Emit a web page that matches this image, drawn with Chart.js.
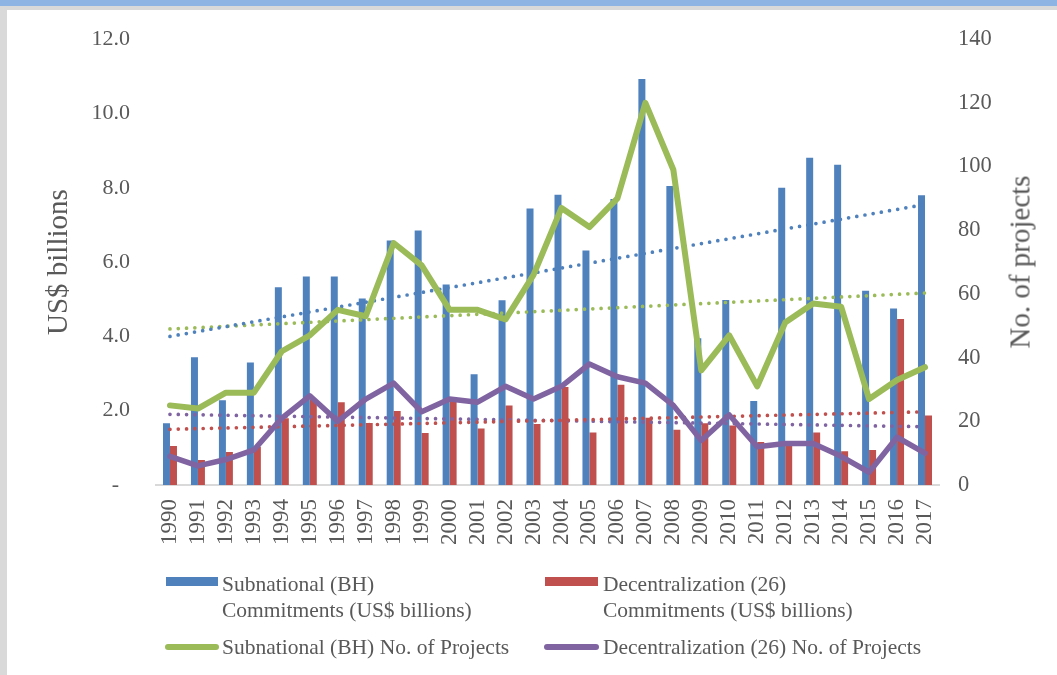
<!DOCTYPE html>
<html>
<head>
<meta charset="utf-8">
<script src="https://cdn.jsdelivr.net/npm/chart.js@4/dist/chart.umd.min.js"></script>
<style>
  html, body { margin:0; padding:0; background:#fff; }
  body { width:1057px; height:675px; position:relative; overflow:hidden; font-family:"Liberation Serif","Times New Roman",serif; color:#595959; }
  #bandBlue { position:absolute; left:0; top:0; width:1057px; height:6px; background:#8EB4E3; }
  #bandGray { position:absolute; left:0; top:6px; width:1057px; height:4px; background:#D9D9D9; }
  #stripGray { position:absolute; left:0; top:6px; width:7px; height:669px; background:#D9D9D9; }
  #wrap { position:absolute; left:0; top:0; width:1057px; height:675px; }
  .leg { position:absolute; font-size:21.5px; line-height:26px; white-space:nowrap; color:#595959; }
  .sw { position:absolute; }
  #rtitle { position:absolute; left:1020px; top:262px; font-size:29px; white-space:nowrap; color:#595959;
            transform:translate(-50%,-50%) rotate(-90deg); }
</style>
</head>
<body>
<div id="bandBlue"></div>
<div id="bandGray"></div>
<div id="stripGray"></div>
<div id="wrap"><canvas id="c" width="1057" height="675"></canvas></div>
<div id="rtitle"></div>
<div id="legend"></div>
<script>
const years = ['1990','1991','1992','1993','1994','1995','1996','1997','1998','1999','2000','2001','2002','2003','2004','2005','2006','2007','2008','2009','2010','2011','2012','2013','2014','2015','2016','2017'];
const subCommit = [1.66,3.44,2.28,3.30,5.32,5.61,5.61,5.02,6.58,6.85,5.40,2.98,4.97,7.44,7.81,6.31,7.70,10.93,8.05,3.95,4.98,2.26,8.00,8.81,8.62,5.23,4.75,7.80];
const decCommit = [1.05,0.67,0.89,1.03,1.80,2.30,2.23,1.67,1.99,1.40,2.24,1.52,2.14,1.64,2.64,1.41,2.70,1.81,1.49,1.66,1.60,1.16,1.12,1.41,0.91,0.94,4.47,1.87];
const subProjects = [25,24,29,29,42,47,55,53,76,69,55,55,52,66,87,81,90,120,99,36,47,31,51,57,56,27,33,37];
const decProjects = [9,6,8,11,21,28,20,27,32,23,27,26,31,27,31,38,34,32,25,14,22,12,13,13,9,4,15,10];
// linear trendline endpoints (1990, 2017)
const subCommitTrend = [4.0, 7.55];
const decCommitTrend = [1.50, 1.97];
const subProjTrend = [49.0, 60.3];
const decProjTrend = [22.2, 18.3];
const leftTicks = [0,2,4,6,8,10,12];
const rightTicks = [0,20,40,60,80,100,120,140];

const labels = {
  subCommit: ['Subnational (BH)', 'Commitments (US$ billions)'],
  decCommit: ['Decentralization (26)', 'Commitments (US$ billions)'],
  subProj: 'Subnational (BH) No. of Projects',
  decProj: 'Decentralization (26) No. of Projects'
};
const colors = { blue:'#4F81BD', red:'#C0504D', green:'#9BBB59', purple:'#8064A2' };

function ends(pair) {
  return years.map((_, i) => i === 0 ? pair[0] : (i === years.length - 1 ? pair[1] : null));
}
function trend(pair, color, axis) {
  return {
    type:'line', data: ends(pair), yAxisID: axis, borderColor: color, borderWidth: 3.7,
    borderDash: [0, 8.3], borderCapStyle: 'round', pointRadius: 0, spanGaps: true,
    fill: false, order: 5, label: ''
  };
}

const FONT = '"Liberation Serif","Times New Roman",serif';
Chart.defaults.font.family = FONT;
Chart.defaults.color = '#595959';

new Chart(document.getElementById('c'), {
  data: {
    labels: years,
    datasets: [
      { type:'bar', label: labels.subCommit.join(' '), data: subCommit, yAxisID:'y', backgroundColor: colors.blue,
        categoryPercentage: 0.5, barPercentage: 1.0, order: 10 },
      { type:'bar', label: labels.decCommit.join(' '), data: decCommit, yAxisID:'y', backgroundColor: colors.red,
        categoryPercentage: 0.5, barPercentage: 1.0, order: 10 },
      trend(subCommitTrend, colors.blue, 'y'),
      trend(decCommitTrend, colors.red, 'y'),
      trend(subProjTrend, colors.green, 'y1'),
      trend(decProjTrend, colors.purple, 'y1'),
      { type:'line', label: labels.subProj, data: subProjects, yAxisID:'y1', borderColor: colors.green, borderWidth: 6,
        pointRadius: 0, tension: 0, borderJoinStyle:'round', borderCapStyle:'round', fill:false, order: 1 },
      { type:'line', label: labels.decProj, data: decProjects, yAxisID:'y1', borderColor: colors.purple, borderWidth: 5.5,
        pointRadius: 0, tension: 0, borderJoinStyle:'round', borderCapStyle:'round', fill:false, order: 0 }
    ]
  },
  options: {
    responsive: false,
    animation: false,
    layout: { padding: { top: 38, left: 0, right: 0, bottom: 0 } },
    plugins: { legend: { display:false }, tooltip: { enabled:false } },
    scales: {
      x: {
        type:'category', offset: true,
        grid: { display:false, drawTicks:false },
        border: { display:true, color:'#D9D9D9', width: 2 },
        ticks: { autoSkip:false, minRotation:90, maxRotation:90, padding: 14, color:'#595959', font:{ size: 23, family: FONT } },
        afterFit: (s) => { s.height = 190; }
      },
      y: {
        position:'left', min: 0, max: 12,
        afterBuildTicks: (s) => { s.ticks = leftTicks.map(v => ({ value: v })); },
        grid: { display:false, drawTicks:false },
        border: { display:false },
        ticks: { padding: 26, color:'#595959', font:{ size: 22, family: FONT },
                 callback: (v) => v === 0 ? '-  ' : Number(v).toFixed(1) },
        title: { display:true, text:'US$ billions', color:'#595959', font:{ size: 29, family: FONT },
                 padding: { top: 42, bottom: 0 } },
        afterFit: (s) => { s.width = 156; }
      },
      y1: {
        position:'right', min: 0, max: 140,
        afterBuildTicks: (s) => { s.ticks = rightTicks.map(v => ({ value: v })); },
        grid: { display:false, drawTicks:false },
        border: { display:false },
        ticks: { padding: 19, color:'#595959', font:{ size: 22.5, family: FONT }, callback: (v) => String(v) },
        afterFit: (s) => { s.width = 118; }
      }
    }
  }
});

document.getElementById('rtitle').textContent = 'No. of projects';

// HTML legend
const lg = document.getElementById('legend');
function addSwatch(x, y, w, h, color, round) {
  const d = document.createElement('div');
  d.className = 'sw';
  d.style.left = x + 'px'; d.style.top = y + 'px'; d.style.width = w + 'px'; d.style.height = h + 'px';
  d.style.background = color;
  if (round) d.style.borderRadius = (h / 2) + 'px';
  lg.appendChild(d);
}
function addText(x, y, lines) {
  const d = document.createElement('div');
  d.className = 'leg';
  d.style.left = x + 'px'; d.style.top = y + 'px';
  (Array.isArray(lines) ? lines : [lines]).forEach((t, i) => {
    if (i) d.appendChild(document.createElement('br'));
    d.appendChild(document.createTextNode(t));
  });
  lg.appendChild(d);
}
addSwatch(166, 577, 52, 9, colors.blue, false);
addText(222, 571, labels.subCommit);
addSwatch(545, 577, 53, 9, colors.red, false);
addText(603, 571, labels.decCommit);
addSwatch(165, 644, 54, 6, colors.green, true);
addText(222, 634, labels.subProj);
addSwatch(544, 644, 55, 6, colors.purple, true);
addText(603, 634, labels.decProj);
</script>
</body>
</html>
